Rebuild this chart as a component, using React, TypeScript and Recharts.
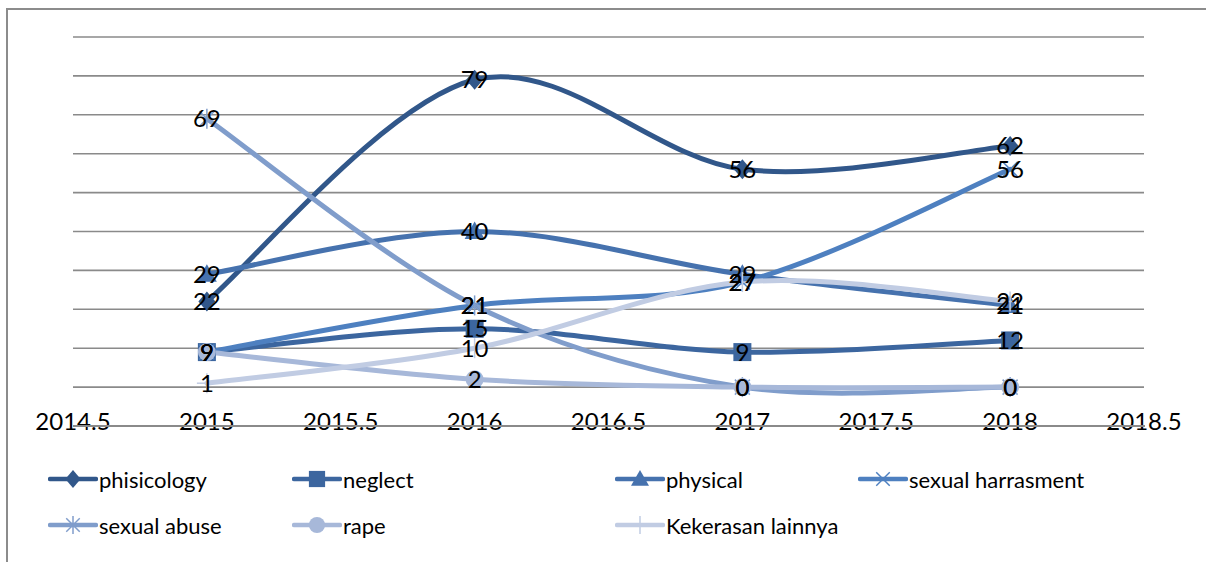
import React from 'react'
import { LineChart, Line, XAxis, YAxis, CartesianGrid, LabelList } from 'recharts'

const YEARS = [2015, 2016, 2017, 2018]
const X_TICKS = [2014.5, 2015, 2015.5, 2016, 2016.5, 2017, 2017.5, 2018, 2018.5]
const Y_TICKS = [-10, 0, 10, 20, 30, 40, 50, 60, 70, 80, 90]
const Y_MIN = -10

const PHISICOLOGY = [22, 79, 56, 62]
const NEGLECT = [9, 15, 9, 12]
const PHYSICAL = [29, 40, 29, 21]
const SEXUAL_HARRASMENT = [9, 21, 27, 56]
const SEXUAL_ABUSE = [69, 21, 0, 0]
const RAPE = [9, 2, 0, 0]
const KEKERASAN_LAINNYA = [1, 10, 27, 22]

const FONT = 'Lato, "Liberation Sans", sans-serif'

type Shape = 'diamond' | 'square' | 'triangle' | 'x' | 'star' | 'circle' | 'plus'

const SERIES: { key: string; name: string; values: number[]; color: string; shape: Shape }[] = [
  { key: 'phisicology', name: 'phisicology', values: PHISICOLOGY, color: '#31578a', shape: 'diamond' },
  { key: 'neglect', name: 'neglect', values: NEGLECT, color: '#3c669f', shape: 'square' },
  { key: 'physical', name: 'physical', values: PHYSICAL, color: '#4672ae', shape: 'triangle' },
  { key: 'harrasment', name: 'sexual harrasment', values: SEXUAL_HARRASMENT, color: '#4e80c0', shape: 'x' },
  { key: 'abuse', name: 'sexual abuse', values: SEXUAL_ABUSE, color: '#809dcb', shape: 'star' },
  { key: 'rape', name: 'rape', values: RAPE, color: '#a7b8d9', shape: 'circle' },
  { key: 'lainnya', name: 'Kekerasan lainnya', values: KEKERASAN_LAINNYA, color: '#c1cce3', shape: 'plus' },
]

const data = YEARS.map((year, i) => {
  const row: Record<string, number> = { year }
  SERIES.forEach(s => { row[s.key] = s.values[i] })
  return row
})

// excel style smoothing (catmull-rom through the points)
const excelCurve = (context: any) => {
  let pts: number[][] = []
  return {
    areaStart() {},
    areaEnd() {},
    lineStart() { pts = [] },
    point(x: number, y: number) { pts.push([+x, +y]) },
    lineEnd() {
      const n = pts.length
      if (!n) return
      context.moveTo(pts[0][0], pts[0][1])
      for (let i = 0; i < n - 1; i++) {
        const p0 = pts[Math.max(i - 1, 0)]
        const p1 = pts[i]
        const p2 = pts[i + 1]
        const p3 = pts[Math.min(i + 2, n - 1)]
        context.bezierCurveTo(
          p1[0] + (p2[0] - p0[0]) / 6, p1[1] + (p2[1] - p0[1]) / 6,
          p2[0] - (p3[0] - p1[0]) / 6, p2[1] - (p3[1] - p1[1]) / 6,
          p2[0], p2[1],
        )
      }
    },
  }
}

function Marker({ cx, cy, shape, color, s = 10 }: { cx: number; cy: number; shape: Shape; color: string; s?: number }) {
  if (cx == null || cy == null) return null
  switch (shape) {
    case 'diamond':
      return <polygon points={`${cx},${cy - s} ${cx + s * 0.85},${cy} ${cx},${cy + s} ${cx - s * 0.85},${cy}`} fill={color} />
    case 'square':
      return <rect x={cx - s * 0.9} y={cy - s * 0.9} width={s * 1.8} height={s * 1.8} fill={color} />
    case 'triangle':
      return <polygon points={`${cx},${cy - s} ${cx + s},${cy + s * 0.75} ${cx - s},${cy + s * 0.75}`} fill={color} />
    case 'circle':
      return <circle cx={cx} cy={cy} r={s * 0.9} fill={color} />
    case 'x':
      return (
        <g stroke={color} strokeWidth={1.5}>
          <line x1={cx - s * 0.75} y1={cy - s * 0.75} x2={cx + s * 0.75} y2={cy + s * 0.75} />
          <line x1={cx - s * 0.75} y1={cy + s * 0.75} x2={cx + s * 0.75} y2={cy - s * 0.75} />
        </g>
      )
    case 'star':
      return (
        <g stroke={color} strokeWidth={1.5}>
          <line x1={cx - s * 0.75} y1={cy - s * 0.75} x2={cx + s * 0.75} y2={cy + s * 0.75} />
          <line x1={cx - s * 0.75} y1={cy + s * 0.75} x2={cx + s * 0.75} y2={cy - s * 0.75} />
          <line x1={cx} y1={cy - s} x2={cx} y2={cy + s} />
        </g>
      )
    case 'plus':
      return (
        <g stroke={color} strokeWidth={1.5}>
          <line x1={cx} y1={cy - s} x2={cx} y2={cy + s} />
          <line x1={cx - s} y1={cy} x2={cx + s} y2={cy} />
        </g>
      )
  }
  return null
}

const XTick = ({ x, y, payload }: any) => (
  <text x={x} y={y + 4} textAnchor="middle" fill="#000" fontSize={24} fontFamily={FONT}>
    {payload.value}
  </text>
)

// legend columns / rows (excel lays it out in a 4 col grid)
const LEGEND_COLS = [48, 292, 615, 858]
const LEGEND_ROWS = [479, 525]

export default function App() {
  return (
    <div style={{ position: 'absolute', left: 0, top: 0, width: 1206, height: 562, background: '#fff', overflow: 'hidden' }}>
      <div style={{ position: 'absolute', left: 6, top: 8, width: 1300, height: 700, borderLeft: '2px solid #8c8c8c', borderTop: '2px solid #8c8c8c' }} />
      <div style={{ position: 'absolute', left: 0, top: 0 }}>
        <LineChart width={1206} height={562} data={data} margin={{ top: 37, right: 62, bottom: 106, left: 73 }}>
          <CartesianGrid vertical={false} stroke="#8a8a8a" strokeWidth={1.6} />
          <XAxis
            dataKey="year"
            type="number"
            domain={[2014.5, 2018.5]}
            ticks={X_TICKS}
            allowDecimals
            height={30}
            tickSize={0}
            tickMargin={0}
            tickLine={false}
            axisLine={{ stroke: '#8a8a8a', strokeWidth: 1.6 }}
            tick={<XTick />}
            interval={0}
          />
          <YAxis hide domain={[Y_MIN, 90]} ticks={Y_TICKS} />
          {SERIES.map(s => (
            <Line
              key={s.key}
              dataKey={s.key}
              name={s.name}
              type={excelCurve as any}
              stroke={s.color}
              strokeWidth={5}
              strokeLinecap="round"
              isAnimationActive={false}
              dot={(p: any) => <Marker key={`${s.key}-${p.index}`} cx={p.cx} cy={p.cy} shape={s.shape} color={s.color} />}
              activeDot={false}
            />
          ))}
          {/* labels drawn on top of every line */}
          {SERIES.map(s => (
            <Line
              key={`${s.key}-lbl`}
              dataKey={s.key}
              stroke="none"
              dot={false}
              activeDot={false}
              legendType="none"
              isAnimationActive={false}
            >
              <LabelList dataKey={s.key} position="center" fill="#000" fontSize={24} fontFamily={FONT} />
            </Line>
          ))}
        </LineChart>
      </div>
      {/* horizontal axis line at y = -10, crosses the tick labels like the original */}
      <div style={{ position: 'absolute', left: 73, top: 425, width: 1072, height: 2, background: '#8a8a8a', zIndex: 5 }} />
      {SERIES.map((s, i) => {
        const left = LEGEND_COLS[i % 4]
        const top = LEGEND_ROWS[Math.floor(i / 4)]
        return (
          <div key={s.key} style={{ position: 'absolute', left, top: top - 14, height: 28, display: 'flex', alignItems: 'center' }}>
            <svg width={50} height={28}>
              <line x1={2} y1={14} x2={48} y2={14} stroke={s.color} strokeWidth={4.5} strokeLinecap="round" />
              <Marker cx={25} cy={14} shape={s.shape} color={s.color} s={9} />
            </svg>
            <span style={{ marginLeft: 1, fontFamily: FONT, fontSize: 22, color: '#000', whiteSpace: 'nowrap' }}>{s.name}</span>
          </div>
        )
      })}
    </div>
  )
}
